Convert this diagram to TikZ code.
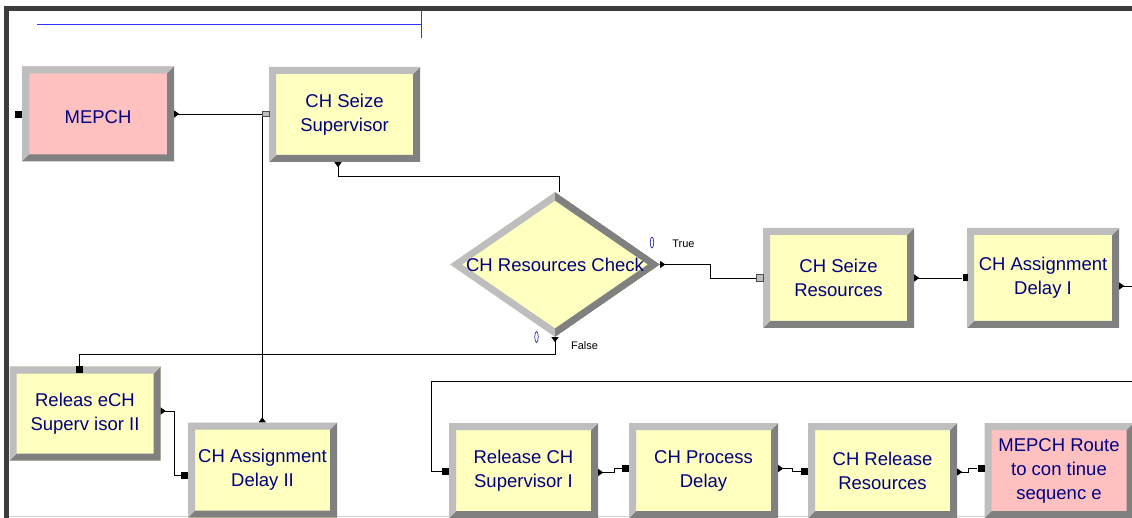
\documentclass[tikz,border=0pt]{standalone}
\usepackage{fontspec}
\setmainfont{Liberation Sans}
\usetikzlibrary{shapes.geometric,arrows.meta}
\definecolor{modyellow}{HTML}{FFFFC0}
\definecolor{modpink}{HTML}{FFC0C0}
\definecolor{bevlight}{HTML}{BEBEBE}
\definecolor{bevdark}{HTML}{808080}
\definecolor{modtext}{HTML}{000080}
\definecolor{winframe}{HTML}{3C3C3C}
\definecolor{ruler}{HTML}{3333FF}
\definecolor{counter}{HTML}{2A2AB0}
\newcommand{\modfont}{\fontsize{18.5}{24}\selectfont}
\tikzset{
  module/.style={rectangle, fill=modyellow, minimum width=151, minimum height=95,
    inner sep=0, align=center, text=modtext, font=\modfont,
    execute at begin node={\rule{0pt}{18.5pt}},
    path picture={
      \coordinate (bsw) at (path picture bounding box.south west);
      \coordinate (bse) at (path picture bounding box.south east);
      \coordinate (bnw) at (path picture bounding box.north west);
      \coordinate (bne) at (path picture bounding box.north east);
      \fill[bevdark] (bsw) -- (bse) -- (bne) -- ([shift={(-7pt,-7pt)}]bne)
        -- ([shift={(-7pt,7pt)}]bse) -- ([shift={(7pt,7pt)}]bsw) -- cycle;
      \fill[bevlight] (bsw) -- (bnw) -- (bne) -- ([shift={(-7pt,-7pt)}]bne)
        -- ([shift={(7pt,-7pt)}]bnw) -- ([shift={(7pt,7pt)}]bsw) -- cycle;
    }},
  decide/.style={diamond, fill=modyellow, minimum width=210, minimum height=145,
    aspect=1.45, inner sep=0, text=modtext, font=\modfont,
    path picture={
      \coordinate (dn) at (path picture bounding box.north);
      \coordinate (ds) at (path picture bounding box.south);
      \coordinate (dw) at (path picture bounding box.west);
      \coordinate (de) at (path picture bounding box.east);
      \fill[bevlight] (dw) -- (dn) -- ([yshift=-8.5pt]dn) -- ([xshift=12pt]dw)
        -- ([yshift=8.5pt]ds) -- (ds) -- cycle;
      \fill[bevdark] (dn) -- (de) -- (ds) -- ([yshift=8.5pt]ds)
        -- ([xshift=-12pt]de) -- ([yshift=-8.5pt]dn) -- cycle;
    }},
  entrypt/.style={fill=black, minimum width=7, minimum height=7, inner sep=0},
  seizept/.style={fill=black!25, draw=black!70, line width=0.5pt, minimum width=7,
    minimum height=5, inner sep=0},
  counter/.style={ellipse, draw=counter, line width=0.7pt, minimum width=3.5,
    minimum height=11, inner sep=0},
  branchlab/.style={font=\fontsize{11}{13}\selectfont, text=black, inner sep=0},
  plain/.style={draw=black, line width=0.8pt},
  conn/.style={plain, {Triangle[reversed,length=5pt,width=7pt]}-}
}
\begin{document}
\begin{tikzpicture}[x=1pt, y=-1pt]
  \useasboundingbox (0,0) rectangle (1132,518);
  % window frame and ruler
  \draw[winframe, line width=4.5pt] (6.5,518) -- (6.5,8.5) -- (1132,8.5);
  \draw[black!18, line width=1.2pt] (9,516.8) -- (1132,516.8);
  \draw[ruler, line width=0.9pt] (37,24) -- (421.5,24);
  \draw[ruler, line width=0.9pt] (421.5,10) -- (421.5,38.5);

  % modules
  \node[module, fill=modpink, minimum width=152] (mepch) at (98,114) {MEPCH};
  \node[module] (seizesup) at (344.5,114.5) {CH Seize\\Supervisor};
  \node[decide] (check) at (555,264.5) {CH Resources Check};
  \node[module, minimum height=100] (seizeres) at (838.5,278) {CH Seize\\Resources};
  \node[module, minimum height=100, minimum width=152] (assign1) at (1043,278) {CH Assignment\\Delay I};
  \node[module, minimum height=94] (relsup2) at (85,413.5) {Releas eCH\\Superv isor II};
  \node[module, minimum width=149] (assign2) at (262.5,470) {CH Assignment\\Delay II};
  \node[module, minimum width=149] (relsup1) at (523.5,470.5) {Release CH\\Supervisor I};
  \node[module, minimum width=149] (process) at (703.5,470.5) {CH Process\\Delay};
  \node[module, minimum width=149] (relres) at (882.5,470.5) {CH Release\\Resources};
  \node[module, fill=modpink, minimum width=149] (route) at (1059,470.5) {MEPCH Route\\to con tinue\\sequenc e};

  % entry points
  \node[entrypt] (mepchin) at (18.5,114.5) {};
  \node[seizept] (supin) at (266,114) {};
  \node[seizept, minimum height=7] (resin) at (759.5,278) {};
  \node[entrypt, minimum width=5] (a1in) at (965,278) {};
  \node[entrypt] (rel2in) at (79.5,369.5) {};
  \node[entrypt] (a2in) at (184.5,475.5) {};
  \node[entrypt] (rel1in) at (445.5,471.5) {};
  \node[entrypt] (procin) at (625.5,468) {};
  \node[entrypt] (relresin) at (804.5,471) {};
  \node[entrypt] (routein) at (981,468.5) {};

  % counters and branch labels
  \node[counter] (truecount) at (652,242.5) {};
  \node[counter] (falsecount) at (536.5,337) {};
  \node[branchlab] (truelab) at (683.5,243.5) {True};
  \node[branchlab] (falselab) at (584.5,346) {False};

  \coordinate (offright) at (1132,286);
  \coordinate (offin) at (1132,381);

  % connectors
  \draw[conn] (mepch.east) -- (supin);
  \draw[conn] (assign2.north -| supin.west) -- (supin.south west);
  \draw[conn] ([xshift=-6.5pt]seizesup.south) -- ++(0,14) -| ([xshift=4pt]check.north);
  \draw[conn] (check.east) -- ++(50,0) |- (resin);
  \draw[conn] (check.south) -- ++(0,17) -| (rel2in);
  \draw[conn] (seizeres.east) -- (a1in);
  \draw[conn] ([yshift=-8pt]assign1.east) -- (offright);
  \draw[plain] (offin) -| ([xshift=-10pt]rel1in.west) -- (rel1in);
  \draw[conn] ([yshift=2.5pt]relsup2.east) -- ++(14,0) |- (a2in);
  \draw[conn] ([yshift=-2pt]relsup1.east) -- ++(16,0) |- (procin);
  \draw[conn] ([yshift=2pt]process.east) -- ++(14,0) |- (relresin);
  \draw[conn] ([yshift=-1.5pt]relres.east) -- ++(11,0) |- (routein);
\end{tikzpicture}
\end{document}
